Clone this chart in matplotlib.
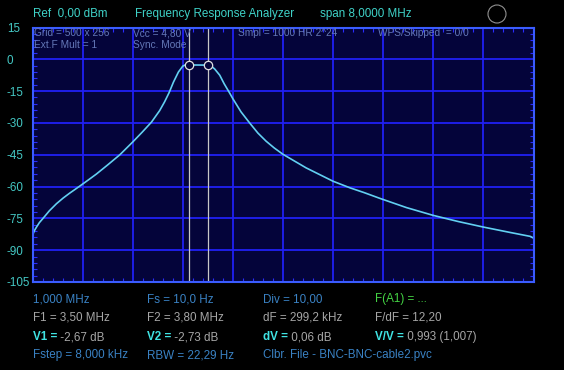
import matplotlib.pyplot as plt
import numpy as np

# trace (MHz, dB)
freq_mhz = [1.00, 1.03, 1.062, 1.11, 1.168, 1.27, 1.382, 1.49, 1.594, 1.754, 1.90,
            2.02, 2.20, 2.395, 2.60, 2.75, 2.90, 3.03, 3.11, 3.18, 3.25, 3.33,
            3.40, 3.45, 3.50, 3.80, 3.86, 3.91, 3.99, 4.06, 4.14, 4.20, 4.33,
            4.467, 4.60, 4.73, 4.86, 5.00, 5.37, 5.80, 6.07, 6.30, 6.55, 6.97,
            7.40, 7.80, 8.20, 8.62, 8.95, 9.00]
level_db = [-83.0, -80.8, -79.2, -77.0, -75.0, -71.4, -68.1, -65.4, -63.1, -59.8, -56.7,
            -54.1, -49.8, -45.0, -39.0, -34.4, -29.6, -24.2, -20.0, -15.8, -10.8, -6.0,
            -3.2, -2.5, -2.67, -2.73, -3.3, -4.6, -7.5, -11.5, -15.5, -18.6, -24.8,
            -30.0, -34.8, -38.6, -41.8, -44.8, -51.2, -57.5, -60.6, -62.9, -65.6, -69.9,
            -73.6, -76.5, -79.1, -81.6, -83.5, -84.3]

marker_f = [3.50, 3.80]
marker_v = [-2.67, -2.73]

x_ticks = [1.0 + 0.8 * i for i in range(11)]
y_ticks = [15, 0, -15, -30, -45, -60, -75, -90, -105]

header = [("Ref  0,00 dBm", 33), ("Frequency Response Analyzer", 135), ("span 8,0000 MHz", 320)]
inner = [("Grid = 500 x 256\nExt.F Mult = 1", 34), ("Vcc = 4,80 V\nSync. Mode", 133),
         ("Smpl = 1000 HR 2^24", 238), ("WPS/Skipped  = 0/0", 378)]

FONT = "Liberation Sans"
FS = 8.4
TEAL = "#3fd2c8"
BLUE_TXT = "#3a82c4"
GRAY = "#a6a6a6"
CYAN = "#40e4e4"

W, H = 564, 370
fig = plt.figure(figsize=(W / 100, H / 100), dpi=100, facecolor="black")
ax = fig.add_axes([32.5 / W, 1 - 282 / H, 501 / W, 254.5 / H])
ax.set_facecolor("#04043a")

ax.set_xlim(1, 9)
ax.set_ylim(-105, 15)
ax.set_xticks(x_ticks)
ax.set_yticks(y_ticks)
ax.grid(True, color="#2020f4", linewidth=1.3)
ax.set_axisbelow(True)
ax.set_xticklabels([])
ax.set_yticklabels([str(v) for v in y_ticks])
ax.tick_params(axis="x", length=0)
ax.tick_params(axis="y", length=0, pad=18.5, labelcolor="#44c8c4", labelsize=FS)
for lab in ax.get_yticklabels():
    lab.set_ha("left")
    lab.set_family(FONT)
ax.set_xticks(np.arange(1, 9.01, 0.16), minor=True)
ax.set_yticks(np.arange(-105, 15.1, 3), minor=True)
ax.tick_params(which="minor", direction="in", length=3, color="#2a2aff", width=0.8,
               top=True, right=True)
for s in ax.spines.values():
    s.set_color("#3a5cff")
    s.set_linewidth(1.5)

# inner status text
for txt, xp in inner:
    ax.text((xp - 32.5) / 501, (282 - 28.5) / 254.5, txt, transform=ax.transAxes,
            color="#6478b8", fontsize=7.3, family=FONT, va="top", linespacing=1.2)

# marker lines and trace
for f in marker_f:
    ax.axvline(f, color="#c8c8c8", linewidth=0.9)
ax.plot(freq_mhz, level_db, color="#62d0f2", linewidth=1.2)
ax.plot(marker_f, marker_v, "o", markersize=6, markerfacecolor="#04043a",
        markeredgecolor="#e0e0e0", markeredgewidth=0.9)

# header
for txt, xp in header:
    fig.text(xp / W, 1 - 14 / H, txt, color=TEAL, fontsize=FS, family=FONT, va="center")
circ = plt.Circle((497 / 100, (H - 14) / 100), 0.09, transform=fig.dpi_scale_trans,
                  fill=False, edgecolor="#909090", linewidth=0.8)
fig.add_artist(circ)

# bottom readout
cols = [33, 147, 263, 375]
rows = [299, 318, 337, 355]
row1 = [("1,000 MHz", BLUE_TXT), ("Fs = 10,0 Hz", BLUE_TXT), ("Div = 10,00", BLUE_TXT),
        ("F(A1) = ...", "#44d444")]
row2 = ["F1 = 3,50 MHz", "F2 = 3,80 MHz", "dF = 299,2 kHz", "F/dF = 12,20"]
row3 = [("V1 =", " -2,67 dB"), ("V2 =", " -2,73 dB"), ("dV =", " 0,06 dB"), ("V/V =", " 0,993 (1,007)")]
row4 = ["Fstep = 8,000 kHz", "RBW = 22,29 Hz", "Clbr. File - BNC-BNC-cable2.pvc"]

for (txt, c), xp in zip(row1, cols):
    fig.text(xp / W, 1 - rows[0] / H, txt, color=c, fontsize=FS, family=FONT, va="center")
for txt, xp in zip(row2, cols):
    fig.text(xp / W, 1 - rows[1] / H, txt, color=GRAY, fontsize=FS, family=FONT, va="center")
fig.canvas.draw()
r = fig.canvas.get_renderer()
for (k, v), xp in zip(row3, cols):
    t = fig.text(xp / W, 1 - rows[2] / H, k, color=CYAN, fontsize=FS, family=FONT,
                 weight="bold", va="center")
    bb = t.get_window_extent(renderer=r)
    fig.text(bb.x1 / W, 1 - rows[2] / H, v, color=GRAY, fontsize=FS, family=FONT, va="center")
for txt, xp in zip(row4, cols):
    fig.text(xp / W, 1 - rows[3] / H, txt, color=BLUE_TXT, fontsize=FS, family=FONT, va="center")

fig.savefig("out.png", dpi=100, facecolor="black")
